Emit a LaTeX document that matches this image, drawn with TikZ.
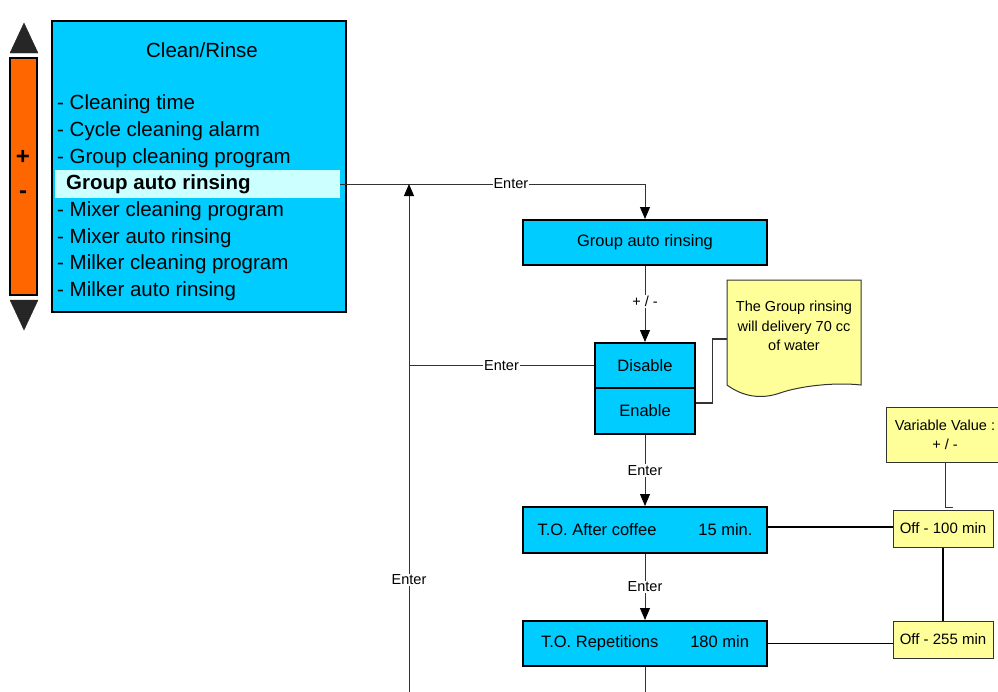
\documentclass[tikz,border=0pt]{standalone}
\usepackage{fontspec}
\setmainfont{Liberation Sans}
\usetikzlibrary{arrows.meta}
\definecolor{cyanbox}{HTML}{00CCFF}
\definecolor{hlcol}{HTML}{CCFFFF}
\definecolor{notecol}{HTML}{FFFF99}
\definecolor{orng}{HTML}{FF6600}
\definecolor{tricol}{HTML}{262626}
\begin{document}
\begin{tikzpicture}[x=1pt,y=-1pt,
  bluebox/.style={draw=black, line width=2pt, fill=cyanbox, inner sep=0pt, font=\fontsize{16.5}{19}\selectfont},
  yelbox/.style={draw=black!80, line width=1pt, fill=notecol, inner sep=0pt, font=\fontsize{14.5}{18}\selectfont, align=center},
  lbl/.style={fill=white, inner sep=1pt, font=\fontsize{14.5}{17}\selectfont},
  conn/.style={draw=black!80, line width=0.9pt},
  heavy/.style={draw=black, line width=1.6pt},
  tip/.style={-{Triangle[length=12pt,width=10pt,color=black]}},
  item/.style={anchor=west, inner sep=0pt, font=\fontsize{20.5}{24}\selectfont}
]
\clip (0,0) rectangle (998,691);
\useasboundingbox (0,0) rectangle (998,691);

% left +/- bar
\draw[fill=tricol, draw=tricol] (10,53) -- (24,23) -- (38,53) -- cycle;
\node[draw=black, line width=1.2pt, fill=orng, minimum width=27pt, minimum height=237pt, inner sep=0pt] (bar) at (23.5,176.5) {};
\node[font=\bfseries\fontsize{24}{26}\selectfont, inner sep=0pt] (plus) at (23,157) {+};
\node[font=\bfseries\fontsize{24}{26}\selectfont, inner sep=0pt] (minus) at (23,195) {-};
\draw[fill=tricol, draw=tricol] (10,300) -- (24,330) -- (38,300) -- cycle;

% main menu box
\node[draw=black, line width=2pt, fill=cyanbox, minimum width=294pt, minimum height=291pt, inner sep=0pt] (menu) at (199,166.5) {};
\node[font=\fontsize{20.5}{24}\selectfont, inner sep=0pt] (title) at (202,50) {Clean/Rinse};
\node[fill=hlcol, minimum width=285pt, minimum height=28pt, inner sep=0pt] (hl) at (197.5,184) {};
\node[item] (i1) at (57,104) {- Cleaning time};
\node[item] (i2) at (57,131) {- Cycle cleaning alarm};
\node[item] (i3) at (57,158) {- Group cleaning program};
\node[item, font=\bfseries\fontsize{20.5}{24}\selectfont] (i4) at (66,184) {Group auto rinsing};
\node[item] (i5) at (57,211) {- Mixer cleaning program};
\node[item] (i6) at (57,238) {- Mixer auto rinsing};
\node[item] (i7) at (57,264) {- Milker cleaning program};
\node[item] (i8) at (57,291) {- Milker auto rinsing};

% flow boxes
\node[bluebox, minimum width=244pt, minimum height=45pt] (grp) at (645,242.5) {Group auto rinsing};
\node[bluebox, minimum width=100pt, minimum height=45pt] (dis) at (645,365.5) {Disable};
\node[bluebox, minimum width=100pt, minimum height=46pt] (en) at (645,411) {Enable};
\node[bluebox, minimum width=244pt, minimum height=46pt] (to1) at (645,530) {\makebox[215pt]{T.O. After coffee\hfill 15 min.}};
\node[bluebox, minimum width=244pt, minimum height=45pt] (to2) at (645,643.5) {\makebox[208pt]{T.O. Repetitions\hfill 180 min}};

\node[yelbox, minimum width=100pt, minimum height=37pt, font=\fontsize{15}{18}\selectfont] (off1) at (943,528.5) {Off - 100 min};
\node[yelbox, minimum width=100pt, minimum height=37pt, font=\fontsize{15}{18}\selectfont] (off2) at (943,639.5) {Off - 255 min};
\node[yelbox, minimum width=118pt, minimum height=55pt] (var) at (945,434.5) {Variable Value :\\[1pt]+ / -};

% note (document shape)
\draw[draw=black!80, line width=1pt, fill=notecol] (727,280) -- (861,280) -- (861,385)
  .. controls (835,382) and (800,386) .. (780,393)
  .. controls (760,400) and (742,396) .. (727,385) -- cycle;
\node[font=\fontsize{14.5}{19.5}\selectfont, align=center, inner sep=0pt] (note) at (794,326) {The Group rinsing\\will delivery 70 cc\\of water};
\coordinate (nl) at (727,339);

% connectors
\coordinate (upend) at (409,184);
\coordinate (vbot) at (409,696);
\coordinate (junc) at (409,365.5);
\coordinate (bot2) at (645,696);
\coordinate (vc) at (953,507);

\draw[conn, tip] (hl.east) -| node[lbl, pos=0.28] {Enter} (grp.north);
\draw[conn, tip] (vbot) -- node[lbl, pos=0.227] {Enter} (upend);
\draw[conn] (junc) -- node[lbl, pos=0.5] {Enter} (dis.west);
\draw[conn, tip] (grp.south) -- node[lbl, pos=0.47] {+ / -} (dis.north);
\draw[conn, tip] (en.south) -- node[lbl, pos=0.5] {Enter} (to1.north);
\draw[conn, tip] (to1.south) -- node[lbl, pos=0.5] {Enter} (to2.north);
\draw[conn] (to2.south) -- (bot2);
\draw[conn, line width=1.3pt] ([yshift=8pt]en.east) -- ++(16.5,0) |- (nl);
\draw[conn] (var.south) |- (vc);
\draw[heavy] ([yshift=3pt]to1.east) -- ([yshift=3pt]to1.east -| off1.west);
\draw[heavy] (to2.east) -- (to2.east -| off2.west);
\draw[heavy] (off1.south) -- (off2.north);
\end{tikzpicture}
\end{document}
